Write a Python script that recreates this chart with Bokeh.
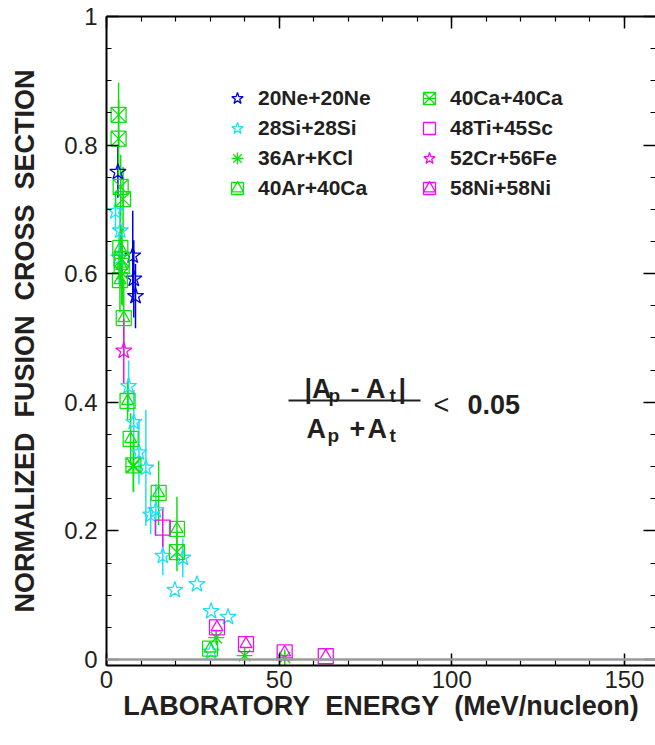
from bokeh.plotting import figure
from bokeh.models import (Range1d, FixedTicker, LinearAxis, Legend, LegendItem,
                          Label, BoxAnnotation, Span, CustomJSTickFormatter)
from bokeh.embed import file_html
from bokeh.resources import INLINE

# ---------------- data ----------------
ne_x = [3.3, 7.6, 7.9, 8.4]
ne_y = [0.758, 0.628, 0.592, 0.565]
ne_e = [0.04, 0.07, 0.06, 0.05]

si_x = [2.6, 4.0, 3.6, 6.4, 7.9, 9.4, 11.4, 12.8, 14.3, 16.3, 22.1, 19.8, 26.2, 30.3, 35.2, 30.3]
si_y = [0.697, 0.667, 0.625, 0.425, 0.369, 0.322, 0.298, 0.225, 0.232, 0.161, 0.158, 0.108,
        0.117, 0.075, 0.066, 0.012]
si_e = [0.03, 0.04, 0.04, 0.04, 0.05, 0.05, 0.09, 0.03, 0.04, 0.03, 0.03, 0.0, 0.0, 0.0, 0.0, 0.0]

ar_x = [4.6, 7.8, 31.8, 40.0, 51.6]
ar_y = [0.600, 0.300, 0.034, 0.006, 0.003]
ar_e = [0.05, 0.04, 0.01, 0.01, 0.01]

ara_x = [4.0, 4.4, 3.9, 5.0, 6.1, 7.0, 15.1, 20.4, 30.0]
ara_y = [0.640, 0.612, 0.590, 0.531, 0.402, 0.343, 0.259, 0.203, 0.017]
ara_e = [0.06, 0.06, 0.05, 0.06, 0.03, 0.04, 0.05, 0.05, 0.0]

ca_x = [3.5, 3.5, 4.1, 4.8, 4.4, 7.8, 20.4]
ca_y = [0.847, 0.810, 0.735, 0.716, 0.622, 0.302, 0.167]
ca_e = [0.05, 0.06, 0.05, 0.05, 0.05, 0.04, 0.03]

ti_x = [16.3]
ti_y = [0.205]
ti_e = [0.03]

cr_x = [5.0]
cr_y = [0.480]
cr_e = [0.05]

ni_x = [32.0, 40.4, 51.6, 63.5]
ni_y = [0.050, 0.024, 0.011, 0.005]
ni_e = [0.0, 0.0, 0.0, 0.0]

x_major = [0, 50, 100, 150]
x_minor = [0, 10, 20, 30, 40, 50, 60, 70, 80, 90, 100, 110, 120, 130, 140, 150, 160]
y_major = [0, 0.2, 0.4, 0.6, 0.8, 1.0]
y_minor = [0, 0.05, 0.1, 0.15, 0.2, 0.25, 0.3, 0.35, 0.4, 0.45, 0.5, 0.55, 0.6, 0.65,
           0.7, 0.75, 0.8, 0.85, 0.9, 0.95, 1.0]

labels = ["20Ne+20Ne", "28Si+28Si", "36Ar+KCl", "40Ar+40Ca",
          "40Ca+40Ca", "48Ti+45Sc", "52Cr+56Fe", "58Ni+58Ni"]

# ---------------- styling ----------------
INK = "#231f20"
BLUE = "#0000e0"
CYAN = "#20e0f0"
GREEN = "#10e010"
MAGENTA = "#ee10ee"
FONT = "Liberation Sans"

p = figure(width=655, height=725, x_range=Range1d(0, 159), y_range=Range1d(-0.0094, 1.0),
           output_backend="svg", toolbar_location=None,
           min_border_left=106, min_border_top=16, min_border_right=0, min_border_bottom=60)
p.xgrid.visible = False
p.ygrid.visible = False
p.outline_line_color = None
p.background_fill_color = "white"


def style_axis(ax, show_labels=True):
    ax.axis_line_color = "black"
    ax.axis_line_width = 2
    ax.major_tick_in = 12
    ax.major_tick_out = 0
    ax.minor_tick_in = 5
    ax.minor_tick_out = 0
    ax.major_tick_line_color = "black"
    ax.major_tick_line_width = 1.5
    ax.minor_tick_line_color = "black"
    ax.minor_tick_line_width = 1.2
    ax.major_label_text_font = FONT
    ax.major_label_text_color = INK
    ax.major_label_text_font_size = "24px"
    if not show_labels:
        ax.formatter = CustomJSTickFormatter(code="return ''")
        ax.major_label_text_font_size = "1px"
        ax.major_label_standoff = 0


p.xaxis.ticker = FixedTicker(ticks=x_major, minor_ticks=x_minor)
p.yaxis.ticker = FixedTicker(ticks=y_major, minor_ticks=y_minor)
style_axis(p.xaxis[0])
style_axis(p.yaxis[0])
p.xaxis.major_label_standoff = 5
p.yaxis.major_label_standoff = 9

p.xaxis.axis_label = "LABORATORY\u00a0\u00a0ENERGY\u00a0\u00a0(MeV/nucleon)"
p.yaxis.axis_label = "NORMALIZED\u00a0\u00a0FUSION\u00a0\u00a0CROSS\u00a0\u00a0SECTION"
for ax in (p.xaxis[0], p.yaxis[0]):
    ax.axis_label_text_font = FONT
    ax.axis_label_text_font_style = "bold"
    ax.axis_label_text_font_size = "27px"
    ax.axis_label_text_color = INK
p.xaxis.axis_label_standoff = 0
p.yaxis.axis_label_standoff = 21

top = LinearAxis(ticker=FixedTicker(ticks=x_major, minor_ticks=x_minor))
style_axis(top, False)
p.add_layout(top, "above")
right = LinearAxis(ticker=FixedTicker(ticks=y_major, minor_ticks=y_minor))
style_axis(right, False)
right.axis_line_color = None
p.add_layout(right, "right")

p.add_layout(Span(location=0, dimension="width", line_color="#9a9a9a", line_width=2.5))


def errbars(xs, ys, es, color):
    p.segment(x0=xs, y0=[y - e for y, e in zip(ys, es)], x1=xs,
              y1=[y + e for y, e in zip(ys, es)], line_color=color, line_width=1.5)


errbars(si_x, si_y, si_e, CYAN)
errbars(ne_x, ne_y, ne_e, BLUE)
errbars(ara_x, ara_y, ara_e, GREEN)
errbars(ca_x, ca_y, ca_e, GREEN)
errbars(ar_x, ar_y, ar_e, GREEN)
errbars(ti_x, ti_y, ti_e, MAGENTA)
errbars(cr_x, cr_y, cr_e, MAGENTA)
errbars(ni_x, ni_y, ni_e, MAGENTA)

MS = 15
common = dict(fill_alpha=0, line_width=1.3)
r_si = p.scatter(si_x, si_y, marker="star", size=17, line_color=CYAN, **common)
r_ne = p.scatter(ne_x, ne_y, marker="star", size=17, line_color=BLUE, **common)
r_ar = p.scatter(ar_x, ar_y, marker="asterisk", size=16, line_color=GREEN, **common)
r_ara_s = p.scatter(ara_x, ara_y, marker="square", size=MS, line_color=GREEN, **common)
r_ara_t = p.scatter(ara_x, ara_y, marker="triangle", size=12, line_color=GREEN, **common)
r_ca_s = p.scatter(ca_x, ca_y, marker="square_x", size=MS, line_color=GREEN, **common)
r_ca_v = p.scatter(ca_x, ca_y, marker="dash", size=MS, angle=1.5708, line_color=GREEN, **common)
r_ti = p.scatter(ti_x, ti_y, marker="square", size=MS, line_color=MAGENTA, **common)
r_cr = p.scatter(cr_x, cr_y, marker="star", size=17, line_color=MAGENTA, **common)
r_ni_s = p.scatter(ni_x, ni_y, marker="square", size=MS, line_color=MAGENTA, **common)
r_ni_t = p.scatter(ni_x, ni_y, marker="triangle", size=12, line_color=MAGENTA, **common)

groups = [[r_ne], [r_si], [r_ar], [r_ara_s, r_ara_t],
          [r_ca_s, r_ca_v], [r_ti], [r_cr], [r_ni_s, r_ni_t]]


def make_legend(idx, loc):
    leg = Legend(items=[LegendItem(label=labels[i], renderers=groups[i]) for i in idx],
                 location=loc, orientation="vertical", glyph_width=34, glyph_height=30,
                 label_standoff=4, spacing=0, padding=0, margin=0,
                 border_line_color=None, background_fill_alpha=0,
                 label_text_font=FONT, label_text_font_style="bold",
                 label_text_font_size="21px", label_text_color=INK, label_height=30)
    p.add_layout(leg)


make_legend([0, 1, 2, 3], (114, 462))
make_legend([4, 5, 6, 7], (306, 462))

# ---------------- formula annotation ----------------
FL, FB = 106, 665


def lab(text, X, Y, size, bold=True):
    p.add_layout(Label(x=X - FL, y=FB - Y, x_units="screen", y_units="screen", text=text,
                       text_font=FONT, text_font_size=f"{size}px",
                       text_font_style="bold" if bold else "normal", text_color=INK,
                       text_baseline="alphabetic", text_align="left"))


lab("|A", 304, 388, 27)
lab("p", 328, 395, 19)
lab("- A", 350, 388, 27)
lab("t", 389, 395, 19)
lab("|", 398, 388, 27)
lab("A", 306, 428, 27)
lab("p", 327, 435, 19)
lab("+", 349, 428, 27)
lab("A", 367, 428, 27)
lab("t", 389, 435, 19)
lab("<", 433, 404, 27, bold=False)
lab("0.05", 467, 404, 27)
p.add_layout(BoxAnnotation(left=288 - FL, right=420 - FL, bottom=FB - 401, top=FB - 399,
                           left_units="screen", right_units="screen",
                           bottom_units="screen", top_units="screen",
                           fill_color=INK, fill_alpha=1, line_color=None))

open("out.html", "w").write(file_html(p, INLINE))
